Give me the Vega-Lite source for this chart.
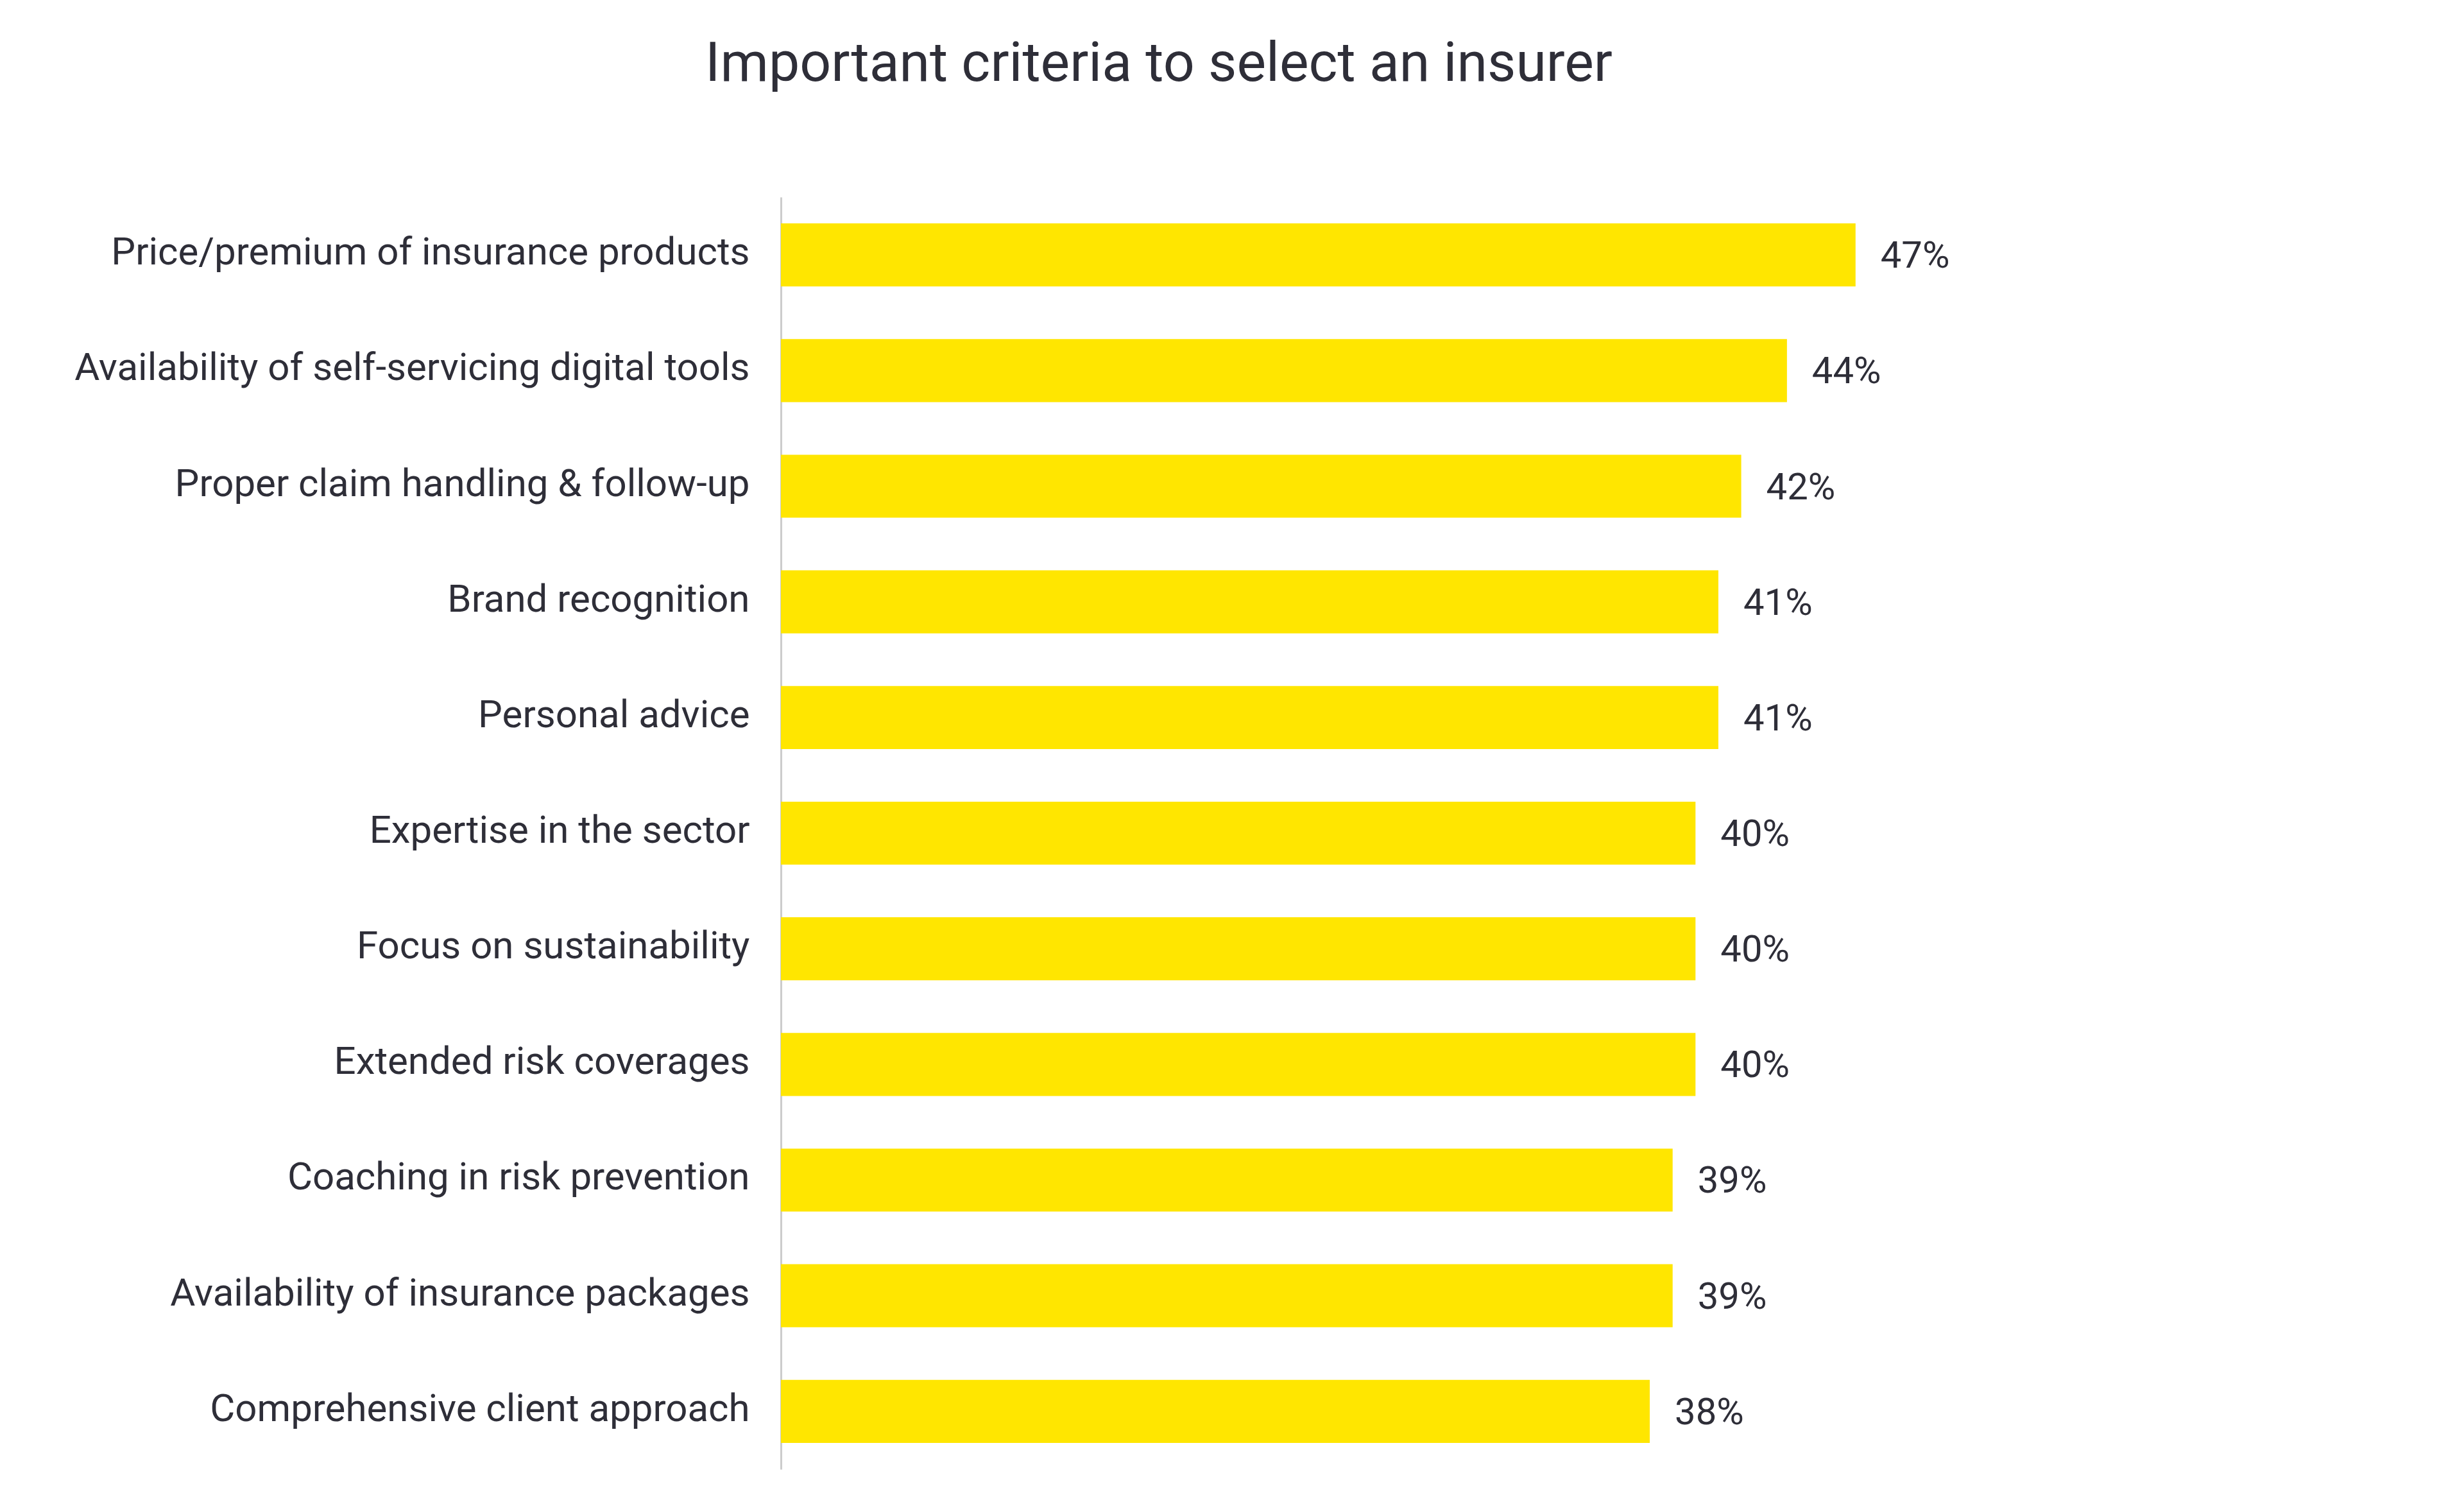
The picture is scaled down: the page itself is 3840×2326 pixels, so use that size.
{
  "$schema": "https://vega.github.io/schema/vega-lite/v6.json",
  "autosize": {"type": "none"},
  "width": 2138,
  "height": 1982,
  "padding": {"left": 1217, "top": 307, "right": 485, "bottom": 37},
  "background": "#ffffff",
  "title": {
    "text": "Important criteria to select an insurer",
    "anchor": "middle",
    "frame": "group",
    "dx": -480,
    "baseline": "alphabetic",
    "offset": 95,
    "font": "Roboto",
    "fontSize": 86,
    "fontWeight": "normal",
    "color": "#2e2e38"
  },
  "data": {
    "values": [
      {"criterion": "Price/premium of insurance products", "value": 0.47},
      {"criterion": "Availability of self-servicing digital tools", "value": 0.44},
      {"criterion": "Proper claim handling & follow-up", "value": 0.42},
      {"criterion": "Brand recognition", "value": 0.41},
      {"criterion": "Personal advice", "value": 0.41},
      {"criterion": "Expertise in the sector", "value": 0.40},
      {"criterion": "Focus on sustainability", "value": 0.40},
      {"criterion": "Extended risk coverages", "value": 0.40},
      {"criterion": "Coaching in risk prevention", "value": 0.39},
      {"criterion": "Availability of insurance packages", "value": 0.39},
      {"criterion": "Comprehensive client approach", "value": 0.38}
    ]
  },
  "encoding": {
    "y": {
      "field": "criterion",
      "type": "nominal",
      "sort": null,
      "scale": {"paddingInner": 0.455, "paddingOuter": 0.228},
      "axis": {
        "title": null,
        "ticks": false,
        "grid": false,
        "domain": true,
        "domainColor": "#cccccc",
        "domainWidth": 3,
        "labelFont": "Roboto",
        "labelFontSize": 60,
        "labelColor": "#2e2e38",
        "labelPadding": 49,
        "labelOffset": -3,
        "labelLimit": 0
      }
    },
    "x": {
      "field": "value",
      "type": "quantitative",
      "scale": {"domain": [0, 0.6]},
      "axis": null
    }
  },
  "layer": [
    {"mark": {"type": "bar", "color": "#FFE600"}},
    {
      "mark": {
        "type": "text",
        "align": "left",
        "baseline": "middle",
        "dx": 39,
        "dy": 3,
        "font": "Roboto",
        "fontSize": 58,
        "color": "#2e2e38"
      },
      "encoding": {
        "text": {"field": "value", "type": "quantitative", "format": ".0%"}
      }
    }
  ],
  "config": {
    "view": {"stroke": null}
  }
}
